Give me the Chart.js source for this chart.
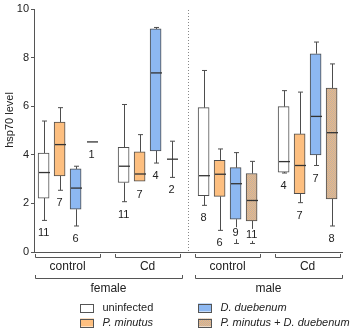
<!DOCTYPE html>
<html><head><meta charset="utf-8">
<script src="https://cdn.jsdelivr.net/npm/chart.js@4"></script>
<style>html,body{margin:0;padding:0;background:#fff}</style>
</head><body>
<canvas id="c" width="355" height="332"></canvas>
<script>
// ---- data ----
const sexes = ['female', 'male'];
const treatments = ['control', 'Cd', 'control', 'Cd'];
const seriesNames = ['uninfected', 'P. minutus', 'D. duebenum', 'P. minutus + D. duebenum'];
const italicNames = [false, true, true, true];
const yTicks = [0, 2, 4, 6, 8, 10];
// rows = series (uninfected, P. minutus, D. duebenum, both); cols = female control, female Cd, male control, male Cd
const lowWhisker  = [[1.30, 2.07, 1.92, 3.25], [2.54, 2.90, 0.89, 2.03], [1.07, 3.66, 0.35, 3.56], [4.53, 3.07, 0.35, 1.07]];
const quart1      = [[2.22, 2.86, 2.32, 3.29], [3.13, 2.91, 2.29, 2.40], [1.76, 4.16, 1.35, 3.99], [4.53, 3.82, 1.28, 2.18]];
const medians     = [[3.27, 3.53, 3.14, 3.72], [4.42, 3.21, 3.20, 3.56], [2.63, 7.37, 2.81, 5.58], [4.53, 3.82, 2.12, 4.91]];
const quart3      = [[4.07, 4.31, 5.94, 5.98], [5.35, 4.12, 3.77, 4.86], [3.42, 9.18, 3.47, 8.16], [4.53, 3.82, 3.23, 6.75]];
const highWhisker = [[5.39, 6.07, 7.47, 6.64], [5.94, 4.83, 4.24, 6.58], [3.53, 9.24, 4.09, 8.64], [4.53, 4.56, 3.73, 7.74]];
const sampleSize  = [[11, 11, 8, 4], [7, 7, 6, 7], [6, 4, 9, 7], [1, 2, 11, 8]];

// ---- styling ----
const FONT = "'Liberation Sans', Arial, sans-serif";
const TEXT = '#222';
const LINE = '#4d4d4d';
function makePattern() {
  const c = document.createElement('canvas');
  c.width = 2; c.height = 2;
  const g = c.getContext('2d');
  g.fillStyle = '#f0b97f'; g.fillRect(0, 0, 2, 2);
  g.fillStyle = '#bdb0a8'; g.fillRect(0, 0, 1, 1); g.fillRect(1, 1, 1, 1);
  return g.createPattern(c, 'repeat');
}
const fills = ['#ffffff', '#fdbf80', '#8db8f2', makePattern()];
const slotPos = (i, j) => j * 5 + i + 1;

const boxPlugin = {
  id: 'boxes',
  beforeDatasetsDraw(chart) {
    const { ctx, scales: { x, y } } = chart;
    const sx = Math.round(x.getPixelForValue(10)) + 0.5;
    ctx.save();
    ctx.strokeStyle = '#888'; ctx.lineWidth = 1; ctx.setLineDash([1, 2]);
    ctx.beginPath(); ctx.moveTo(sx, y.getPixelForValue(10) + 1); ctx.lineTo(sx, y.getPixelForValue(0)); ctx.stroke();
    ctx.restore();
  },
  afterDatasetsDraw(chart) {
    const { ctx, scales: { x, y } } = chart;
    const line = (a, b, c, d) => { ctx.beginPath(); ctx.moveTo(a, b); ctx.lineTo(c, d); ctx.stroke(); };
    ctx.save();
    seriesNames.forEach((s, i) => {
      treatments.forEach((t, j) => {
        const px = Math.round(x.getPixelForValue(slotPos(i, j))) + 0.5;
        const lo = y.getPixelForValue(lowWhisker[i][j]);
        const q1 = y.getPixelForValue(quart1[i][j]);
        const md = y.getPixelForValue(medians[i][j]);
        const q3 = y.getPixelForValue(quart3[i][j]);
        const hi = y.getPixelForValue(highWhisker[i][j]);
        ctx.strokeStyle = LINE; ctx.lineWidth = 1;
        if (hi < q3 - 0.5) { line(px, q3, px, hi); line(px - 2.5, hi, px + 2.5, hi); }
        if (lo > q1 + 0.5) { line(px, q1, px, lo); line(px - 2.5, lo, px + 2.5, lo); }
        ctx.strokeStyle = '#333'; ctx.lineWidth = 1.3;
        line(px - 5.5, md, px + 5.5, md);
      });
    });
    ctx.font = '11px ' + FONT; ctx.textAlign = 'center'; ctx.textBaseline = 'middle';
    const floor = y.getPixelForValue(0) - 6;
    seriesNames.forEach((s, i) => {
      treatments.forEach((t, j) => {
        const px = x.getPixelForValue(slotPos(i, j));
        let ly = y.getPixelForValue(lowWhisker[i][j]) + 13;
        if (ly > floor) ly = y.getPixelForValue(quart1[i][j]) + 14;
        const label = String(sampleSize[i][j]);
        const w = ctx.measureText(label).width;
        ctx.fillStyle = '#fff'; ctx.fillRect(px - w / 2 - 1, ly - 6, w + 2, 12);
        ctx.fillStyle = TEXT; ctx.fillText(label, px, ly);
      });
    });
    ctx.restore();
  },
  afterDraw(chart) {
    const { ctx, scales: { x, y } } = chart;
    ctx.save();
    ctx.strokeStyle = '#555'; ctx.lineWidth = 1;
    const bracket = (a, b, yy, h) => {
      const xa = Math.round(x.getPixelForValue(a)) + 0.5, xb = Math.round(x.getPixelForValue(b)) + 0.5;
      ctx.beginPath(); ctx.moveTo(xa, yy - h); ctx.lineTo(xa, yy); ctx.lineTo(xb, yy); ctx.lineTo(xb, yy - h); ctx.stroke();
    };
    ctx.fillStyle = TEXT; ctx.textAlign = 'center'; ctx.textBaseline = 'middle';
    ctx.font = '12px ' + FONT;
    treatments.forEach((t, j) => {
      const c = j * 5 + 2.5;
      bracket(c - 2.05, c + 2.05, 257.5, 3.5);
      ctx.fillText(t, x.getPixelForValue(c), 267);
    });
    sexes.forEach((s, k) => {
      const a = k * 10 + 0.45, b = k * 10 + 9.65;
      bracket(a, b, 278.5, 3.5);
      ctx.fillText(s, x.getPixelForValue((a + b) / 2), 289);
    });
    ctx.save();
    ctx.translate(10, 120); ctx.rotate(-Math.PI / 2);
    ctx.font = '11px ' + FONT; ctx.fillText('hsp70 level', 0, 0);
    ctx.restore();
    const cols = [80, 198], rows = [307.5, 322.5];
    seriesNames.forEach((s, i) => {
      const lx = cols[Math.floor(i / 2)], ly = rows[i % 2];
      ctx.fillStyle = fills[i]; ctx.fillRect(lx, ly - 4, 14, 8);
      ctx.strokeStyle = '#555'; ctx.strokeRect(lx + 0.5, Math.round(ly - 4) + 0.5, 13, 8);
      ctx.fillStyle = TEXT; ctx.textAlign = 'left';
      ctx.font = (italicNames[i] ? 'italic ' : '') + '11px ' + FONT;
      ctx.fillText(s, lx + 22.5, ly);
    });
    ctx.restore();
  }
};

const datasets = seriesNames.map((s, i) => ({
  label: s,
  data: treatments.map((t, j) => ({ x: slotPos(i, j), y: [quart1[i][j], quart3[i][j]] })),
  backgroundColor: fills[i],
  borderColor: LINE,
  borderWidth: 1,
  borderSkipped: false,
  barThickness: 11,
  grouped: false
}));

new Chart(document.getElementById('c'), {
  type: 'bar',
  data: { datasets },
  options: {
    responsive: false, animation: false, devicePixelRatio: 1,
    layout: { padding: { top: 9, right: 13, left: 0, bottom: 0 } },
    plugins: { legend: { display: false }, tooltip: { enabled: false } },
    scales: {
      x: {
        type: 'linear', min: 0.4, max: 19.65, offset: false,
        ticks: { display: false },
        grid: { drawOnChartArea: false, drawTicks: false, offset: false },
        border: { display: true, color: '#555' },
        afterFit: s => { s.height = 80; }
      },
      y: {
        min: 0, max: 10,
        afterBuildTicks: s => { s.ticks = yTicks.map(v => ({ value: v })); },
        ticks: { color: TEXT, font: { size: 11, family: FONT }, padding: 2 },
        grid: { drawOnChartArea: false, drawTicks: true, tickLength: 3, color: '#555' },
        border: { display: true, color: '#555' },
        afterFit: s => { s.width = 34; }
      }
    }
  },
  plugins: [boxPlugin]
});
</script>
</body></html>
